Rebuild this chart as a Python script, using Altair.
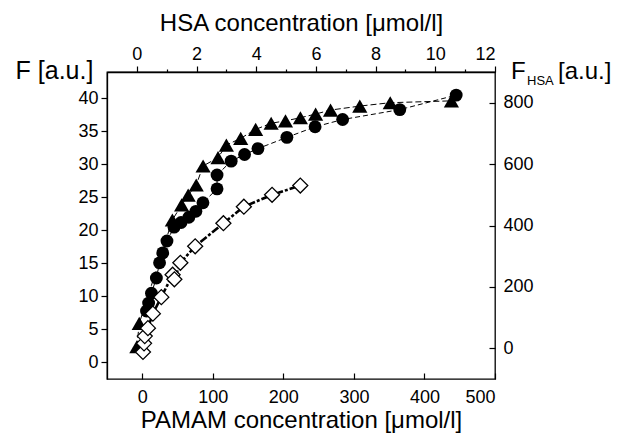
import altair as alt
import pandas as pd

# Filled circles: PAMAM concentration [umol/l] vs F [a.u.]
circ_pamam = [6, 9, 13, 20, 24.5, 29, 35, 45, 55, 66, 76, 86, 106, 106, 126, 145, 164, 205, 245, 284, 365, 445]
circ_f = [7.8, 9.0, 10.5, 12.8, 15.1, 16.6, 18.4, 20.5, 21.2, 22.0, 22.9, 24.2, 26.3, 28.4, 30.5, 31.5, 32.4, 34.1, 35.7, 36.8, 38.3, 40.5]

# Open diamonds: PAMAM concentration vs F [a.u.]
dia_pamam = [1, 2.5, 3.5, 8, 15, 27, 43, 45.5, 54, 75, 115, 144, 184, 224]
dia_f = [1.6, 2.9, 4.0, 5.2, 7.4, 9.9, 13.3, 12.6, 15.1, 17.6, 21.1, 23.6, 25.4, 26.8]

# Filled triangles: HSA concentration [umol/l] vs F_HSA [a.u.]
tri_hsa = [0.0, 0.08, 1.19, 1.5, 1.72, 1.99, 2.22, 2.72, 3.0, 3.48, 3.98, 4.5, 4.98, 5.48, 5.99, 6.49, 7.47, 8.49, 10.54]
tri_fhsa = [5, 81, 418, 467, 499, 532, 594, 621, 662, 684, 713, 733, 741, 751, 763, 776, 789, 800, 806]

FONT = "Liberation Sans"

circ = pd.DataFrame({"pamam": circ_pamam, "f": circ_f, "i": list(range(len(circ_pamam)))})
dia = pd.DataFrame({"pamam": dia_pamam, "f": dia_f, "i": list(range(len(dia_pamam)))})
tri = pd.DataFrame({"hsa": tri_hsa, "fhsa": tri_fhsa, "i": list(range(len(tri_hsa)))})

# bottom / left scales
bot_axis = alt.Axis(orient="bottom", values=[0, 100, 200, 300, 400, 500],
                    title="PAMAM concentration [μmol/l]", offset=-6, tickSize=6,
                    domain=False, labelPadding=9, titlePadding=2, grid=False)
left_axis = alt.Axis(orient="left", values=list(range(0, 45, 5)), title="F [a.u.]",
                     titleAngle=0, titleX=-53, titleY=-2, titleAlign="center",
                     titleBaseline="middle", titleFontSize=25, tickSize=6, labelPadding=3,
                     domain=True, domainColor="black", domainWidth=1.3, grid=False)
xb = alt.X("pamam:Q", scale=alt.Scale(domain=[-50, 500], nice=False, zero=False), axis=bot_axis)
yl = alt.Y("f:Q", scale=alt.Scale(domain=[-2.5, 44], nice=False, zero=False), axis=left_axis)

# top / right scales
top_axis = alt.Axis(orient="top", values=list(range(0, 13)),
                    labelExpr="datum.value % 2 === 0 ? datum.label : ''",
                    labelOverlap=False,
                    tickSize={"condition": {"test": "datum.value % 2 === 0", "value": 6}, "value": 3},
                    title="HSA concentration [μmol/l]", labelPadding=3, titlePadding=10,
                    domain=True, domainColor="black", domainWidth=1.3, grid=False)
right_axis = alt.Axis(orient="right", values=[0, 200, 400, 600, 800], title=None,
                      offset=-6, tickSize=6, labelPadding=8, domain=False, grid=False)
xt = alt.X("hsa:Q", scale=alt.Scale(domain=[-1, 12], nice=False, zero=False), axis=top_axis)
yr = alt.Y("fhsa:Q", scale=alt.Scale(domain=[-100, 900], nice=False, zero=False), axis=right_axis)

tri_line = alt.Chart(tri).mark_line(color="black", strokeDash=[6, 3], strokeWidth=1).encode(
    x=xt, y=yr, order="i:Q")
tri_pts = alt.Chart(tri).mark_point(shape="triangle-up", filled=True, color="black",
                                    size=230, opacity=1).encode(x=xt, y=yr)

lbl_f = alt.Chart(pd.DataFrame({"t": ["F"]})).mark_text(
    font=FONT, fontSize=24, align="left", baseline="middle", color="black").encode(
    x=alt.value(404), y=alt.value(0), text="t:N")
lbl_hsa = alt.Chart(pd.DataFrame({"t": ["HSA"]})).mark_text(
    font=FONT, fontSize=13, align="left", baseline="middle", color="black").encode(
    x=alt.value(420), y=alt.value(9), text="t:N")
lbl_au = alt.Chart(pd.DataFrame({"t": ["[a.u.]"]})).mark_text(
    font=FONT, fontSize=24, align="left", baseline="middle", color="black").encode(
    x=alt.value(451), y=alt.value(0), text="t:N")

group_top = alt.layer(tri_line, tri_pts, lbl_f, lbl_hsa, lbl_au)

circ_line = alt.Chart(circ).mark_line(color="black", strokeDash=[5, 3], strokeWidth=1).encode(
    x=xb, y=yl, order="i:Q")
circ_pts = alt.Chart(circ).mark_point(shape="circle", filled=True, color="black",
                                      size=165, opacity=1).encode(x=xb, y=yl)
dia_line = alt.Chart(dia).mark_line(color="black", strokeDash=[8, 2, 3, 2], strokeWidth=2.6).encode(
    x=xb, y=yl, order="i:Q")
dia_pts = alt.Chart(dia).mark_point(shape="diamond", filled=True, fill="white", stroke="black",
                                    strokeWidth=1.3, size=225, opacity=1).encode(x=xb, y=yl)

group_bot = alt.layer(circ_line, circ_pts, dia_line, dia_pts)

chart = alt.layer(group_top, group_bot).resolve_scale(
    x="independent", y="independent"
).properties(
    width=388, height=307,
    autosize=alt.AutoSizeParams(type="none"),
    padding={"left": 99, "top": 64, "right": 121, "bottom": 58},
).configure_view(
    stroke="black", strokeWidth=1.3
).configure_axis(
    labelFont=FONT, labelFontSize=18, labelColor="black",
    titleFont=FONT, titleFontSize=24, titleFontWeight="normal", titleColor="black",
    tickColor="black", tickWidth=1.2, grid=False
)

chart.save("out.html", embed_options={"renderer": "svg", "actions": False})
